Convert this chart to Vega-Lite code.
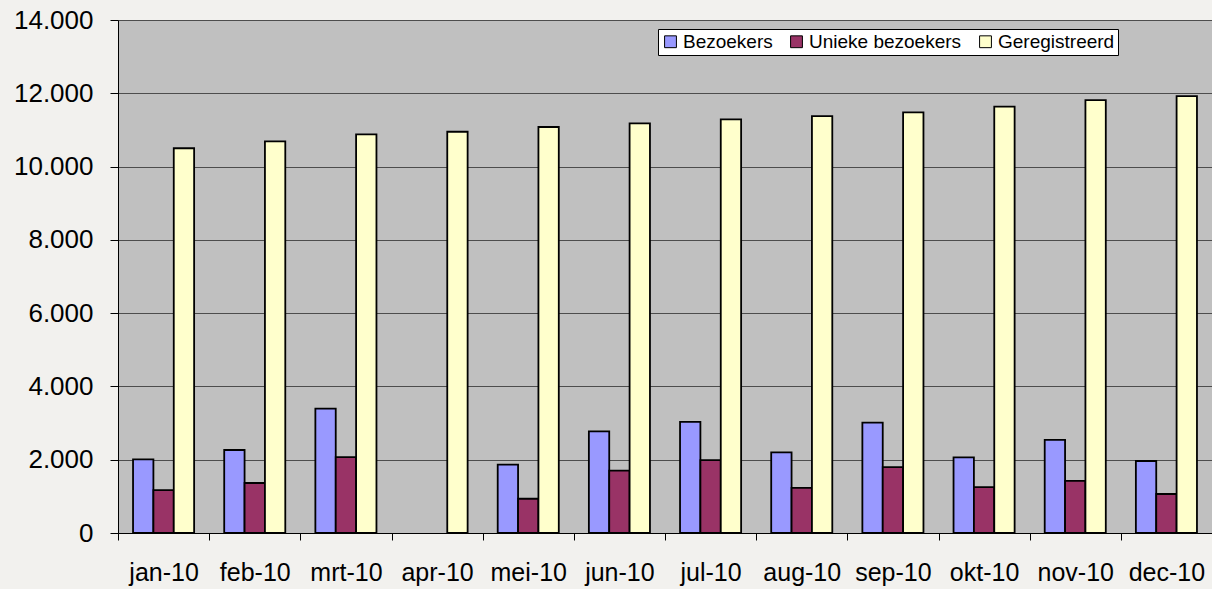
{
  "$schema": "https://vega.github.io/schema/vega-lite/v6.json",
  "width": 1094,
  "height": 513,
  "autosize": {"type": "none"},
  "padding": {"left": 118, "top": 20, "right": 0, "bottom": 56},
  "background": "#f2f1ee",
  "data": {
    "values": [
      {"maand": "jan-10", "reeks": "Bezoekers", "waarde": 2010},
      {"maand": "jan-10", "reeks": "Unieke bezoekers", "waarde": 1170},
      {"maand": "jan-10", "reeks": "Geregistreerd", "waarde": 10500},
      {"maand": "feb-10", "reeks": "Bezoekers", "waarde": 2265},
      {"maand": "feb-10", "reeks": "Unieke bezoekers", "waarde": 1365},
      {"maand": "feb-10", "reeks": "Geregistreerd", "waarde": 10690},
      {"maand": "mrt-10", "reeks": "Bezoekers", "waarde": 3395},
      {"maand": "mrt-10", "reeks": "Unieke bezoekers", "waarde": 2070},
      {"maand": "mrt-10", "reeks": "Geregistreerd", "waarde": 10880},
      {"maand": "apr-10", "reeks": "Bezoekers", "waarde": null},
      {"maand": "apr-10", "reeks": "Unieke bezoekers", "waarde": null},
      {"maand": "apr-10", "reeks": "Geregistreerd", "waarde": 10950},
      {"maand": "mei-10", "reeks": "Bezoekers", "waarde": 1865},
      {"maand": "mei-10", "reeks": "Unieke bezoekers", "waarde": 935},
      {"maand": "mei-10", "reeks": "Geregistreerd", "waarde": 11080},
      {"maand": "jun-10", "reeks": "Bezoekers", "waarde": 2775},
      {"maand": "jun-10", "reeks": "Unieke bezoekers", "waarde": 1700},
      {"maand": "jun-10", "reeks": "Geregistreerd", "waarde": 11180},
      {"maand": "jul-10", "reeks": "Bezoekers", "waarde": 3030},
      {"maand": "jul-10", "reeks": "Unieke bezoekers", "waarde": 1990},
      {"maand": "jul-10", "reeks": "Geregistreerd", "waarde": 11290},
      {"maand": "aug-10", "reeks": "Bezoekers", "waarde": 2200},
      {"maand": "aug-10", "reeks": "Unieke bezoekers", "waarde": 1230},
      {"maand": "aug-10", "reeks": "Geregistreerd", "waarde": 11375},
      {"maand": "sep-10", "reeks": "Bezoekers", "waarde": 3010},
      {"maand": "sep-10", "reeks": "Unieke bezoekers", "waarde": 1800},
      {"maand": "sep-10", "reeks": "Geregistreerd", "waarde": 11480},
      {"maand": "okt-10", "reeks": "Bezoekers", "waarde": 2065},
      {"maand": "okt-10", "reeks": "Unieke bezoekers", "waarde": 1250},
      {"maand": "okt-10", "reeks": "Geregistreerd", "waarde": 11635},
      {"maand": "nov-10", "reeks": "Bezoekers", "waarde": 2540},
      {"maand": "nov-10", "reeks": "Unieke bezoekers", "waarde": 1420},
      {"maand": "nov-10", "reeks": "Geregistreerd", "waarde": 11815},
      {"maand": "dec-10", "reeks": "Bezoekers", "waarde": 1965},
      {"maand": "dec-10", "reeks": "Unieke bezoekers", "waarde": 1065},
      {"maand": "dec-10", "reeks": "Geregistreerd", "waarde": 11925}
    ]
  },
  "mark": {"type": "bar", "stroke": "black", "strokeWidth": 1.8},
  "encoding": {
    "x": {
      "field": "maand",
      "type": "nominal",
      "sort": null,
      "scale": {"paddingInner": 0.33, "paddingOuter": 0.165},
      "axis": {
        "title": null,
        "labelAngle": 0,
        "labelFont": "Liberation Sans",
        "labelFontSize": 25,
        "labelColor": "black",
        "labelBaseline": "alphabetic",
        "labelPadding": 40,
        "ticks": true,
        "bandPosition": 0,
        "tickOffset": -15.04,
        "labelOffset": 15.04,
        "tickSize": 7,
        "tickColor": "black",
        "tickWidth": 1,
        "tickOpacity": 1,
        "domainColor": "black",
        "domainWidth": 1,
        "grid": false
      }
    },
    "xOffset": {
      "field": "reeks",
      "sort": ["Bezoekers", "Unieke bezoekers", "Geregistreerd"],
      "scale": {"paddingInner": 0, "paddingOuter": 0}
    },
    "y": {
      "field": "waarde",
      "type": "quantitative",
      "scale": {"domain": [0, 14000], "nice": false},
      "axis": {
        "title": null,
        "values": [0, 2000, 4000, 6000, 8000, 10000, 12000, 14000],
        "labelExpr": "replace(format(datum.value, ','), ',', '.')",
        "labelFont": "Liberation Sans",
        "labelFontSize": 26,
        "labelColor": "black",
        "labelPadding": 17,
        "tickSize": 8,
        "tickColor": "black",
        "domainColor": "black",
        "domainWidth": 1,
        "grid": true,
        "gridColor": "#4d4d4d",
        "gridWidth": 1
      }
    },
    "color": {
      "field": "reeks",
      "type": "nominal",
      "sort": ["Bezoekers", "Unieke bezoekers", "Geregistreerd"],
      "scale": {
        "domain": ["Bezoekers", "Unieke bezoekers", "Geregistreerd"],
        "range": ["#9999ff", "#993366", "#ffffcc"]
      },
      "legend": {
        "title": null,
        "orient": "none",
        "legendX": 540,
        "legendY": 9,
        "direction": "horizontal",
        "fillColor": "white",
        "strokeColor": "black",
        "padding": 3,
        "symbolType": "square",
        "symbolSize": 140,
        "symbolStrokeColor": "black",
        "symbolStrokeWidth": 1,
        "symbolOpacity": 1,
        "labelFont": "Liberation Sans",
        "labelFontSize": 19,
        "labelColor": "black",
        "labelOffset": 3,
        "columnPadding": 14
      }
    }
  },
  "config": {
    "view": {"fill": "#c0c0c0", "stroke": null}
  }
}
